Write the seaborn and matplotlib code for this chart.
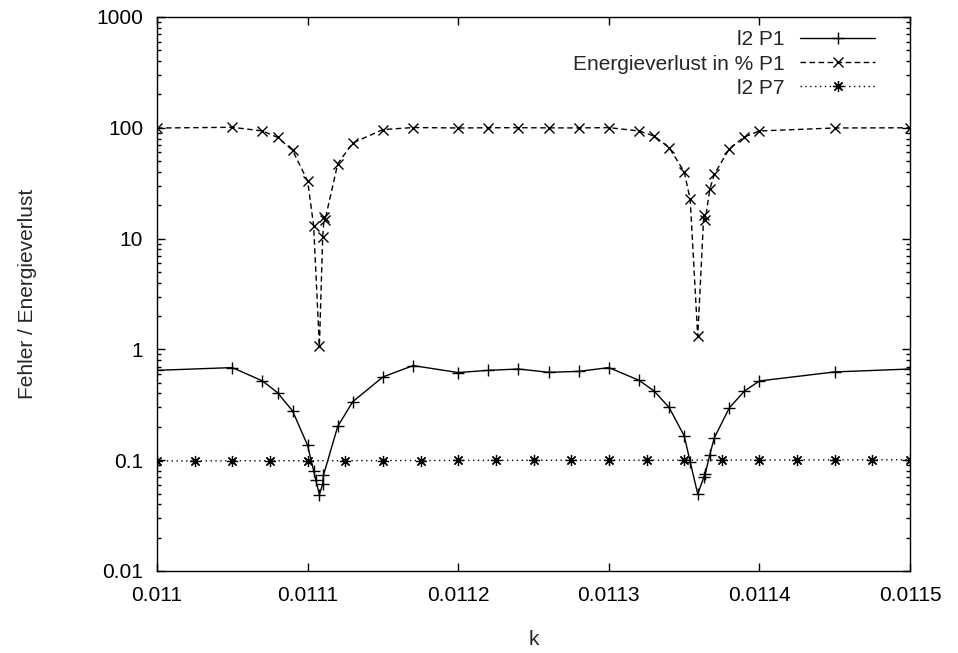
import matplotlib
matplotlib.use("Agg")
import matplotlib.pyplot as plt
from matplotlib.ticker import FixedLocator, FuncFormatter, LogLocator, NullFormatter
import seaborn as sns
import pandas as pd

# wave number k for each run
k_l2_p1 = [0.011, 0.01105, 0.01107, 0.01108, 0.01109, 0.0111, 0.011104, 0.0111055,
           0.0111078, 0.01111, 0.0111105, 0.01112, 0.01113, 0.01115, 0.01117, 0.0112,
           0.01122, 0.01124, 0.01126, 0.01128, 0.0113, 0.01132, 0.01133, 0.01134,
           0.01135, 0.011354, 0.011359, 0.011363, 0.011364, 0.011367, 0.01137,
           0.01138, 0.01139, 0.0114, 0.01145, 0.0115]
l2_p1 = [0.647, 0.685, 0.519, 0.407, 0.278, 0.136, 0.080, 0.0656,
         0.049, 0.0607, 0.073, 0.202, 0.338, 0.564, 0.714, 0.618,
         0.647, 0.665, 0.621, 0.633, 0.685, 0.526, 0.421, 0.299,
         0.166, 0.0964, 0.0495, 0.070, 0.0755, 0.112, 0.159,
         0.297, 0.42, 0.519, 0.626, 0.665]

k_energy = [0.011, 0.01105, 0.01107, 0.01108, 0.01109, 0.0111, 0.011104, 0.0111078,
            0.01111, 0.011111, 0.0111115, 0.01112, 0.01113, 0.01115, 0.01117, 0.0112,
            0.01122, 0.01124, 0.01126, 0.01128, 0.0113, 0.01132, 0.01133, 0.01134,
            0.01135, 0.011354, 0.011359, 0.011363, 0.011364, 0.011367, 0.01137,
            0.01138, 0.01139, 0.0114, 0.01145, 0.0115]
energy_p1 = [99.5, 101, 93.6, 82, 62.7, 33.1, 13.0, 1.07,
             10.3, 15.8, 14.6, 47.5, 73, 96.3, 100.5, 99.6,
             100, 100.2, 99.8, 99.7, 100.3, 93.6, 84.3, 66.3,
             40.1, 22.6, 1.31, 16.2, 14.6, 27.9, 38,
             64.9, 82.6, 93.6, 99.6, 100]

k_l2_p7 = [0.011, 0.011025, 0.01105, 0.011075, 0.0111, 0.011125, 0.01115,
           0.011175, 0.0112, 0.011225, 0.01125, 0.011275, 0.0113, 0.011325,
           0.01135, 0.011375, 0.0114, 0.011425, 0.01145, 0.011475, 0.0115]
l2_p7 = [0.0985, 0.0985, 0.0988, 0.0988, 0.099, 0.099, 0.0992,
         0.0993, 0.0995, 0.0996, 0.0997, 0.0998, 0.0999, 0.1,
         0.1, 0.1002, 0.1003, 0.1005, 0.1006, 0.1008, 0.101]

x_ticks = [0.011, 0.0111, 0.0112, 0.0113, 0.0114, 0.0115]
y_ticks = [0.01, 0.1, 1, 10, 100, 1000]

FS = 15

sns.set_style("ticks")
plt.rcParams["font.family"] = ["Liberation Sans", "DejaVu Sans"]
plt.rcParams["font.size"] = FS

fig = plt.figure(figsize=(9.58, 6.53), dpi=100)
ax = fig.add_axes([0.1639, 0.1256, 0.950 - 0.1639, 0.974 - 0.1256])

d1 = pd.DataFrame({"k": k_l2_p1, "v": l2_p1})
d2 = pd.DataFrame({"k": k_energy, "v": energy_p1})
d3 = pd.DataFrame({"k": k_l2_p7, "v": l2_p7})

sns.lineplot(data=d1, x="k", y="v", ax=ax, color="black", lw=1.0,
             marker="+", markersize=8, markeredgewidth=1.0, markeredgecolor="black",
             estimator=None, sort=False, label="l2 P1")
sns.lineplot(data=d2, x="k", y="v", ax=ax, color="black", lw=1.0,
             linestyle=(0, (4, 2.5)),
             marker="x", markersize=7, markeredgewidth=1.0, markeredgecolor="black",
             estimator=None, sort=False, label="Energieverlust in % P1")
sns.lineplot(data=d3, x="k", y="v", ax=ax, color="black", lw=1.0,
             linestyle=(0, (1, 2.5)),
             marker=(8, 2, 0), markersize=8, markeredgewidth=0.9, markeredgecolor="black",
             estimator=None, sort=False, label="l2 P7")

ax.set_yscale("log")
ax.set_xlim(0.011, 0.0115)
ax.set_ylim(0.01, 1000)
ax.xaxis.set_major_locator(FixedLocator(x_ticks))
ax.xaxis.set_major_formatter(FuncFormatter(lambda v, p: "%g" % v))
ax.yaxis.set_major_locator(FixedLocator(y_ticks))
ax.yaxis.set_major_formatter(FuncFormatter(lambda v, p: "%g" % v))
ax.yaxis.set_minor_locator(LogLocator(base=10, subs=range(2, 10), numticks=20))
ax.yaxis.set_minor_formatter(NullFormatter())

ax.tick_params(which="both", direction="in", top=True, right=True, width=1.0,
               labelsize=FS, colors="black")
ax.tick_params(which="major", length=6)
ax.tick_params(which="minor", length=3)
ax.tick_params(axis="x", which="major", pad=11)
ax.tick_params(axis="y", which="major", pad=10)
for s in ax.spines.values():
    s.set_linewidth(1.0)
    s.set_color("black")

ax.set_xlabel("k", fontsize=FS)
ax.set_ylabel("Fehler / Energieverlust", fontsize=FS)
ax.xaxis.set_label_coords(0.5, -0.106)
ax.yaxis.set_label_coords(-0.159, 0.5)

leg = ax.legend(loc="upper right", bbox_to_anchor=(0.965, 0.991), frameon=False,
                markerfirst=False, handlelength=3.6, handletextpad=0.75,
                labelspacing=0.25, fontsize=FS, borderaxespad=0.0)
for col in leg._legend_handle_box.get_children():
    col.align = "right"

fig.savefig("out.png", dpi=100)
